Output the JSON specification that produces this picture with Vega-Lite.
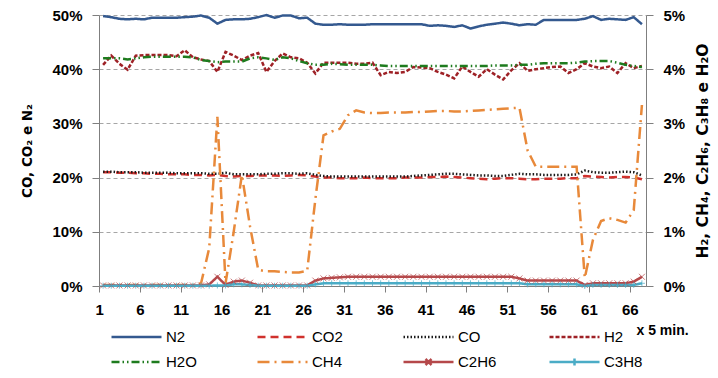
{
"$schema": "https://vega.github.io/schema/vega-lite/v6.json",
"width": 547, "height": 271,
"autosize": {"type": "none"},
"padding": {"left": 99, "top": 15, "right": 72, "bottom": 92},
"background": "white",
"config": {"view": {"stroke": null}, "font": "Liberation Sans"},
"data": {"values": [
{"t":1,"N2":49.8,"CO2":21.0,"CO":21.1,"H2":4.08,"H2O":4.2,"CH4":0.02,"C2H6":0.01,"C3H8":0.005},
{"t":2,"N2":49.6,"CO2":21.0,"CO":21.1,"H2":4.25,"H2O":4.2,"CH4":0.02,"C2H6":0.01,"C3H8":0.005},
{"t":3,"N2":49.3,"CO2":20.9,"CO":21.0,"H2":4.1,"H2O":4.2,"CH4":0.02,"C2H6":0.01,"C3H8":0.005},
{"t":4,"N2":49.2,"CO2":20.9,"CO":21.0,"H2":3.99,"H2O":4.18,"CH4":0.02,"C2H6":0.01,"C3H8":0.005},
{"t":5,"N2":49.3,"CO2":20.8,"CO":21.0,"H2":4.25,"H2O":4.2,"CH4":0.02,"C2H6":0.01,"C3H8":0.005},
{"t":6,"N2":49.2,"CO2":20.8,"CO":20.9,"H2":4.26,"H2O":4.22,"CH4":0.02,"C2H6":0.01,"C3H8":0.005},
{"t":7,"N2":49.5,"CO2":20.7,"CO":20.9,"H2":4.26,"H2O":4.23,"CH4":0.02,"C2H6":0.01,"C3H8":0.005},
{"t":8,"N2":49.5,"CO2":20.7,"CO":20.9,"H2":4.26,"H2O":4.23,"CH4":0.02,"C2H6":0.01,"C3H8":0.005},
{"t":9,"N2":49.5,"CO2":20.6,"CO":20.9,"H2":4.26,"H2O":4.23,"CH4":0.02,"C2H6":0.01,"C3H8":0.005},
{"t":10,"N2":49.5,"CO2":20.6,"CO":20.8,"H2":4.24,"H2O":4.23,"CH4":0.02,"C2H6":0.01,"C3H8":0.005},
{"t":11,"N2":49.6,"CO2":20.6,"CO":20.8,"H2":4.35,"H2O":4.23,"CH4":0.02,"C2H6":0.01,"C3H8":0.005},
{"t":12,"N2":49.7,"CO2":20.5,"CO":20.8,"H2":4.22,"H2O":4.22,"CH4":0.02,"C2H6":0.01,"C3H8":0.005},
{"t":13,"N2":49.9,"CO2":20.5,"CO":20.8,"H2":4.18,"H2O":4.17,"CH4":0.05,"C2H6":0.01,"C3H8":0.005},
{"t":14,"N2":49.5,"CO2":20.4,"CO":20.7,"H2":4.15,"H2O":4.15,"CH4":0.7,"C2H6":0.03,"C3H8":0.005},
{"t":15,"N2":48.4,"CO2":20.5,"CO":20.7,"H2":3.95,"H2O":4.13,"CH4":3.12,"C2H6":0.17,"C3H8":0.01},
{"t":16,"N2":49.1,"CO2":20.3,"CO":20.9,"H2":4.32,"H2O":4.14,"CH4":0.05,"C2H6":0.02,"C3H8":0.01},
{"t":17,"N2":49.2,"CO2":20.2,"CO":20.6,"H2":4.25,"H2O":4.14,"CH4":1.0,"C2H6":0.08,"C3H8":0.03},
{"t":18,"N2":49.2,"CO2":20.3,"CO":20.6,"H2":4.17,"H2O":4.14,"CH4":2.05,"C2H6":0.1,"C3H8":0.03},
{"t":19,"N2":49.3,"CO2":20.3,"CO":20.6,"H2":4.25,"H2O":4.2,"CH4":1.1,"C2H6":0.06,"C3H8":0.02},
{"t":20,"N2":49.6,"CO2":20.4,"CO":20.6,"H2":4.3,"H2O":4.22,"CH4":0.3,"C2H6":0.01,"C3H8":0.005},
{"t":21,"N2":50.0,"CO2":20.4,"CO":20.7,"H2":3.95,"H2O":4.2,"CH4":0.27,"C2H6":0.01,"C3H8":0.005},
{"t":22,"N2":49.5,"CO2":20.4,"CO":20.7,"H2":4.15,"H2O":4.17,"CH4":0.27,"C2H6":0.01,"C3H8":0.005},
{"t":23,"N2":49.9,"CO2":20.3,"CO":20.8,"H2":4.29,"H2O":4.22,"CH4":0.26,"C2H6":0.01,"C3H8":0.005},
{"t":24,"N2":49.9,"CO2":20.4,"CO":20.8,"H2":4.22,"H2O":4.2,"CH4":0.25,"C2H6":0.01,"C3H8":0.005},
{"t":25,"N2":49.4,"CO2":20.5,"CO":20.7,"H2":4.2,"H2O":4.15,"CH4":0.25,"C2H6":0.01,"C3H8":0.005},
{"t":26,"N2":49.5,"CO2":20.4,"CO":20.8,"H2":4.12,"H2O":4.11,"CH4":0.28,"C2H6":0.01,"C3H8":0.005},
{"t":27,"N2":48.4,"CO2":20.2,"CO":20.5,"H2":3.92,"H2O":4.08,"CH4":1.6,"C2H6":0.1,"C3H8":0.03},
{"t":28,"N2":48.2,"CO2":20.0,"CO":20.3,"H2":4.12,"H2O":4.08,"CH4":2.78,"C2H6":0.14,"C3H8":0.05},
{"t":29,"N2":48.2,"CO2":20.0,"CO":20.2,"H2":4.12,"H2O":4.1,"CH4":2.85,"C2H6":0.15,"C3H8":0.05},
{"t":30,"N2":48.3,"CO2":19.9,"CO":20.2,"H2":4.12,"H2O":4.09,"CH4":2.9,"C2H6":0.16,"C3H8":0.05},
{"t":31,"N2":48.2,"CO2":19.9,"CO":20.2,"H2":4.12,"H2O":4.08,"CH4":3.15,"C2H6":0.17,"C3H8":0.05},
{"t":32,"N2":48.2,"CO2":19.9,"CO":20.2,"H2":4.1,"H2O":4.08,"CH4":3.24,"C2H6":0.17,"C3H8":0.05},
{"t":33,"N2":48.2,"CO2":20.0,"CO":20.2,"H2":4.1,"H2O":4.08,"CH4":3.2,"C2H6":0.17,"C3H8":0.05},
{"t":34,"N2":48.3,"CO2":19.9,"CO":20.2,"H2":4.12,"H2O":4.08,"CH4":3.19,"C2H6":0.17,"C3H8":0.05},
{"t":35,"N2":48.3,"CO2":19.9,"CO":20.2,"H2":3.89,"H2O":4.07,"CH4":3.19,"C2H6":0.17,"C3H8":0.05},
{"t":36,"N2":48.3,"CO2":19.9,"CO":20.2,"H2":3.95,"H2O":4.06,"CH4":3.2,"C2H6":0.17,"C3H8":0.05},
{"t":37,"N2":48.3,"CO2":19.9,"CO":20.2,"H2":3.93,"H2O":4.06,"CH4":3.2,"C2H6":0.17,"C3H8":0.05},
{"t":38,"N2":48.3,"CO2":20.0,"CO":20.2,"H2":3.95,"H2O":4.06,"CH4":3.2,"C2H6":0.17,"C3H8":0.05},
{"t":39,"N2":48.3,"CO2":20.0,"CO":20.3,"H2":4.04,"H2O":4.06,"CH4":3.21,"C2H6":0.17,"C3H8":0.05},
{"t":40,"N2":48.3,"CO2":20.0,"CO":20.4,"H2":4.03,"H2O":4.06,"CH4":3.21,"C2H6":0.17,"C3H8":0.05},
{"t":41,"N2":48.0,"CO2":20.1,"CO":20.5,"H2":4.02,"H2O":4.06,"CH4":3.22,"C2H6":0.17,"C3H8":0.05},
{"t":42,"N2":48.1,"CO2":20.1,"CO":20.6,"H2":3.95,"H2O":4.06,"CH4":3.23,"C2H6":0.17,"C3H8":0.05},
{"t":43,"N2":48.0,"CO2":20.2,"CO":20.7,"H2":3.9,"H2O":4.06,"CH4":3.23,"C2H6":0.17,"C3H8":0.05},
{"t":44,"N2":47.8,"CO2":20.1,"CO":20.7,"H2":3.83,"H2O":4.06,"CH4":3.22,"C2H6":0.17,"C3H8":0.05},
{"t":45,"N2":48.1,"CO2":20.0,"CO":20.6,"H2":4.05,"H2O":4.06,"CH4":3.22,"C2H6":0.17,"C3H8":0.05},
{"t":46,"N2":47.5,"CO2":19.9,"CO":20.5,"H2":3.95,"H2O":4.06,"CH4":3.23,"C2H6":0.17,"C3H8":0.05},
{"t":47,"N2":47.9,"CO2":19.8,"CO":20.4,"H2":3.86,"H2O":4.06,"CH4":3.24,"C2H6":0.17,"C3H8":0.05},
{"t":48,"N2":48.2,"CO2":19.7,"CO":20.4,"H2":4.0,"H2O":4.06,"CH4":3.25,"C2H6":0.17,"C3H8":0.05},
{"t":49,"N2":48.4,"CO2":19.8,"CO":20.3,"H2":3.9,"H2O":4.07,"CH4":3.26,"C2H6":0.17,"C3H8":0.05},
{"t":50,"N2":48.6,"CO2":19.9,"CO":20.3,"H2":3.81,"H2O":4.07,"CH4":3.27,"C2H6":0.17,"C3H8":0.05},
{"t":51,"N2":48.4,"CO2":19.9,"CO":20.5,"H2":3.98,"H2O":4.07,"CH4":3.28,"C2H6":0.17,"C3H8":0.05},
{"t":52,"N2":48.1,"CO2":19.8,"CO":20.7,"H2":4.11,"H2O":4.08,"CH4":3.29,"C2H6":0.14,"C3H8":0.05},
{"t":53,"N2":48.3,"CO2":19.7,"CO":20.6,"H2":3.97,"H2O":4.08,"CH4":2.5,"C2H6":0.1,"C3H8":0.03},
{"t":54,"N2":48.2,"CO2":19.7,"CO":20.6,"H2":4.0,"H2O":4.1,"CH4":2.2,"C2H6":0.1,"C3H8":0.03},
{"t":55,"N2":49.1,"CO2":19.8,"CO":20.5,"H2":4.02,"H2O":4.11,"CH4":2.2,"C2H6":0.1,"C3H8":0.03},
{"t":56,"N2":49.1,"CO2":19.8,"CO":20.5,"H2":4.04,"H2O":4.11,"CH4":2.2,"C2H6":0.1,"C3H8":0.03},
{"t":57,"N2":49.1,"CO2":19.8,"CO":20.5,"H2":4.05,"H2O":4.11,"CH4":2.2,"C2H6":0.1,"C3H8":0.03},
{"t":58,"N2":49.1,"CO2":19.9,"CO":20.5,"H2":3.93,"H2O":4.11,"CH4":2.2,"C2H6":0.1,"C3H8":0.03},
{"t":59,"N2":49.1,"CO2":19.9,"CO":20.6,"H2":4.0,"H2O":4.12,"CH4":2.2,"C2H6":0.1,"C3H8":0.03},
{"t":60,"N2":49.3,"CO2":20.3,"CO":21.3,"H2":4.11,"H2O":4.14,"CH4":0.15,"C2H6":0.02,"C3H8":0.0},
{"t":61,"N2":49.8,"CO2":20.2,"CO":21.0,"H2":4.05,"H2O":4.15,"CH4":0.85,"C2H6":0.05,"C3H8":0.02},
{"t":62,"N2":49.1,"CO2":20.1,"CO":20.9,"H2":4.02,"H2O":4.15,"CH4":1.2,"C2H6":0.05,"C3H8":0.02},
{"t":63,"N2":49.3,"CO2":20.0,"CO":20.9,"H2":4.05,"H2O":4.15,"CH4":1.25,"C2H6":0.05,"C3H8":0.02},
{"t":64,"N2":49.2,"CO2":20.1,"CO":21.0,"H2":3.93,"H2O":4.12,"CH4":1.22,"C2H6":0.05,"C3H8":0.02},
{"t":65,"N2":49.1,"CO2":20.1,"CO":21.1,"H2":4.11,"H2O":4.08,"CH4":1.17,"C2H6":0.05,"C3H8":0.02},
{"t":66,"N2":49.6,"CO2":20.0,"CO":21.0,"H2":4.02,"H2O":4.06,"CH4":1.4,"C2H6":0.08,"C3H8":0.02},
{"t":67,"N2":48.3,"CO2":19.7,"CO":20.4,"H2":4.06,"H2O":4.04,"CH4":3.34,"C2H6":0.17,"C3H8":0.05}
]},
"encoding": {
  "x": {"field": "t", "type": "quantitative",
    "scale": {"domain": [0.5, 67.5], "nice": false, "zero": false},
    "axis": {"values": [1,6,11,16,21,26,31,36,41,46,51,56,61,66], "tickOffset": -4, "tickSize": 6,
      "tickColor": "#7F7F7F", "domainColor": "#7F7F7F", "domainWidth": 1, "grid": false,
      "labelFontSize": 15, "labelFontWeight": "bold", "labelColor": "#000", "labelPadding": 10,
      "title": "x 5 min.", "titleFontSize": 14, "titleFontWeight": "bold", "titleColor": "#000",
      "titleAnchor": "start", "titleAlign": "left", "titleBaseline": "middle", "titleX": 537, "titleY": 44}}
},
"layer": [
  {
    "transform": [{"fold": ["N2", "CO2", "CO"], "as": ["s", "v"]}],
    "mark": {"type": "line", "strokeWidth": 2.5},
    "encoding": {
      "y": {"field": "v", "type": "quantitative", "scale": {"domain": [0, 50], "nice": false},
        "axis": {"orient": "left", "values": [0,10,20,30,40,50], "labelExpr": "datum.value + '%'",
          "grid": true, "gridDash": [4,3], "gridColor": "#A6A6A6", "domainColor": "#7F7F7F",
          "tickColor": "#7F7F7F", "tickSize": 7, "labelFontSize": 15, "labelFontWeight": "bold",
          "labelColor": "#000", "labelPadding": 10, "title": "CO, CO₂ e N₂", "titleFont": "DejaVu Sans",
          "titleFontSize": 13.5, "titleFontWeight": "bold", "titleColor": "#000", "titlePadding": 17}},
      "color": {"field": "s", "type": "nominal",
        "scale": {"domain": ["N2","CO2","CO","H2","H2O","CH4","C2H6","C3H8"],
          "range": ["#34598F","#D0312D","#1A1A1A","#9E2126","#1E7B1E","#E8893A","#B5484A","#4BACC6"]},
        "legend": {"orient": "none", "legendX": 11, "legendY": 314, "direction": "horizontal", "columns": 4,
          "title": null, "symbolType": "stroke", "symbolSize": 2500, "symbolStrokeWidth": 2.5,
          "clipHeight": 16, "rowPadding": 9, "columnPadding": 51, "gridAlign": "all",
          "labelFontSize": 15, "labelColor": "#000", "labelOffset": 3,
          "encode": {"symbols": {"update": {"shape": {"signal": "datum.value === 'C2H6' ? 'M-1,0H1M-0.12,-0.12L0.12,0.12M-0.12,0.12L0.12,-0.12' : datum.value === 'C3H8' ? 'M-1,0H1M0,-0.14V0.14' : 'stroke'"}}}}}},
      "strokeDash": {"field": "s", "type": "nominal",
        "scale": {"domain": ["N2","CO2","CO","H2","H2O","CH4","C2H6","C3H8"],
          "range": [[1,0],[8,5],[1.5,2],[4,2],[8,3,1.5,3,1.5,3],[12,5,2,5],[1,0],[1,0]]}}
    }
  },
  {
    "transform": [{"fold": ["H2", "H2O", "CH4", "C2H6", "C3H8"], "as": ["s", "v"]}],
    "encoding": {
      "y": {"field": "v", "type": "quantitative", "scale": {"domain": [0, 5], "nice": false},
        "axis": {"orient": "right", "values": [0,1,2,3,4,5], "labelExpr": "datum.value + '%'",
          "grid": false, "domainColor": "#7F7F7F", "tickColor": "#7F7F7F", "tickSize": 7,
          "labelFontSize": 15, "labelFontWeight": "bold", "labelColor": "#000", "labelPadding": 10,
          "title": "H₂, CH₄, C₂H₆, C₃H₈ e H₂O", "titleFont": "DejaVu Sans", "titleAngle": 270,
          "titleFontSize": 15.5, "titleFontWeight": "bold", "titleColor": "#000", "titlePadding": 26}}
    },
    "layer": [
      {"mark": {"type": "line", "strokeWidth": 2.5},
       "encoding": {"color": {"field": "s", "type": "nominal"}, "strokeDash": {"field": "s", "type": "nominal"}}},
      {"transform": [{"filter": "datum.s === 'C2H6' || datum.s === 'C3H8'"}],
       "mark": {"type": "point", "filled": false, "size": 36, "strokeWidth": 1},
       "encoding": {"color": {"field": "s", "type": "nominal"},
         "shape": {"field": "s", "type": "nominal", "legend": null,
           "scale": {"domain": ["C2H6","C3H8"], "range": ["M-1,-1L1,1M-1,1L1,-1", "M-1,0L1,0M0,-1L0,1"]}}}}
    ]
  }
],
"resolve": {"scale": {"y": "independent"}}
}
